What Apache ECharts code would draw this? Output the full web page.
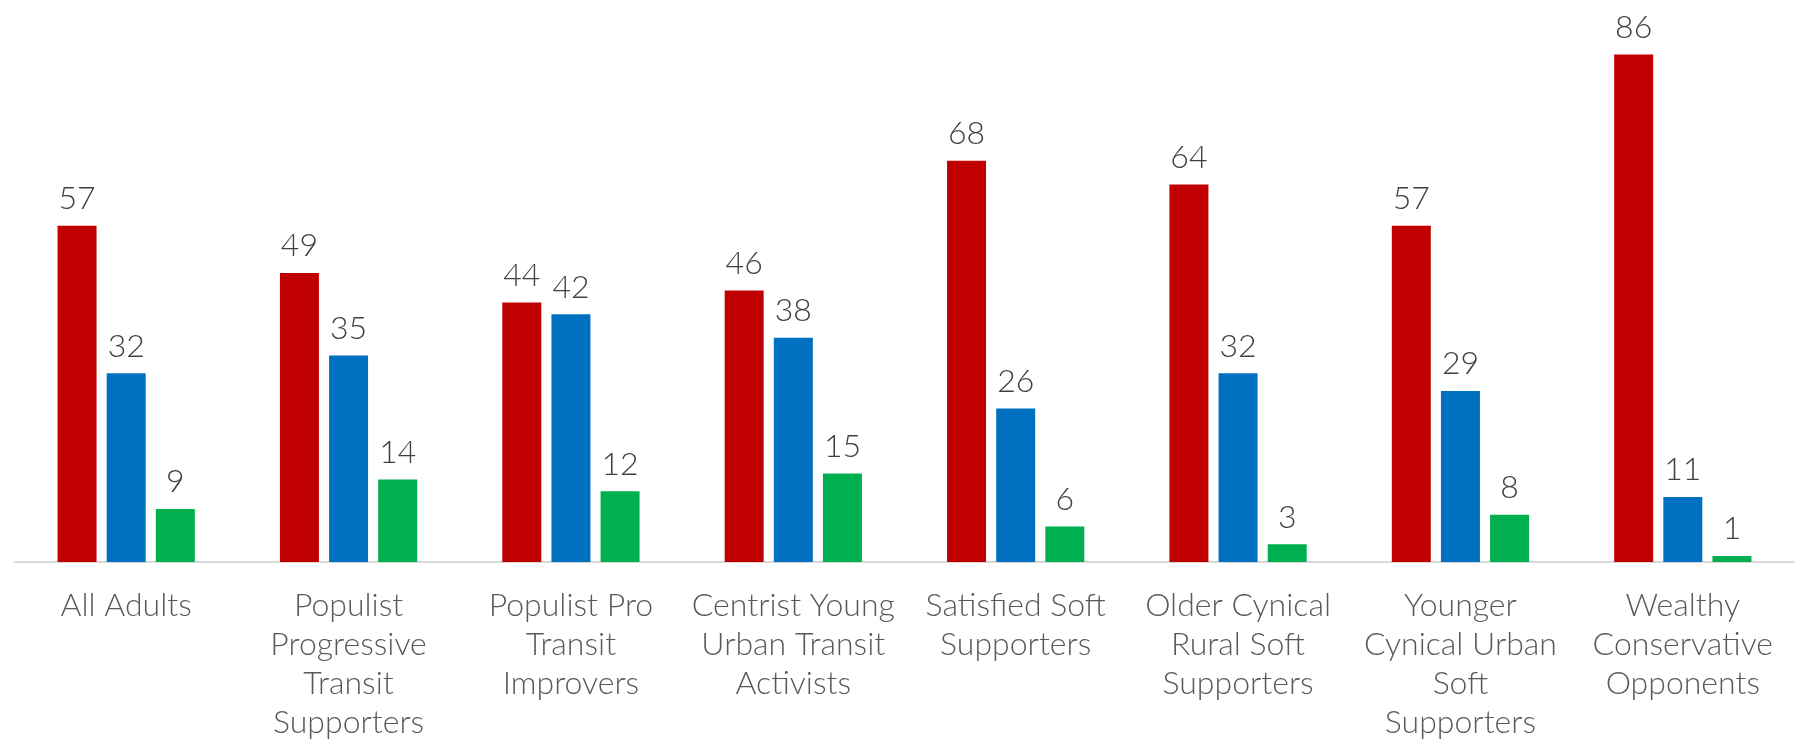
<!DOCTYPE html>
<html>
<head>
<meta charset="utf-8">
<style>
  html, body { margin: 0; padding: 0; background: #ffffff; }
  #chart { width: 1798px; height: 742px; }
</style>
<script src="https://cdn.jsdelivr.net/npm/echarts@6/dist/echarts.min.js"></script>
</head>
<body>
<div id="chart"></div>
<script>
// Segment names, wrapped the way they appear under the axis
const categories = [
  'All Adults',
  'Populist\nProgressive\nTransit\nSupporters',
  'Populist Pro\nTransit\nImprovers',
  'Centrist Young\nUrban Transit\nActivists',
  'Satisfied Soft\nSupporters',
  'Older Cynical\nRural Soft\nSupporters',
  'Younger\nCynical Urban\nSoft\nSupporters',
  'Wealthy\nConservative\nOpponents'
];

// Percentages per segment
const redValues   = [57, 49, 44, 46, 68, 64, 57, 86];
const blueValues  = [32, 35, 42, 38, 26, 32, 29, 11];
const greenValues = [9, 14, 12, 15, 6, 3, 8, 1];

const FONT = 'Lato, "Open Sans", "Noto Sans", sans-serif';

const labelStyle = {
  show: true,
  position: 'top',
  distance: 11,
  color: '#404040',
  fontFamily: FONT,
  fontWeight: 300,
  fontSize: 32
};

function barSeries(name, data, color) {
  return {
    name: name,
    type: 'bar',
    data: data,
    barWidth: 39,
    barGap: '26%',
    itemStyle: { color: color },
    label: labelStyle,
    emphasis: { disabled: true }
  };
}

const chart = echarts.init(document.getElementById('chart'), null, { renderer: 'canvas' });
chart.setOption({
  animation: false,
  backgroundColor: '#ffffff',
  grid: { left: 15, right: 4, top: 31, bottom: 176, containLabel: false },
  xAxis: {
    type: 'category',
    data: categories,
    axisLine: { show: true, lineStyle: { color: '#D9D9D9', width: 2 } },
    axisTick: { show: false },
    axisLabel: {
      interval: 0,
      margin: 24,
      color: '#595959',
      fontFamily: FONT,
      fontWeight: 300,
      fontSize: 32,
      lineHeight: 39
    }
  },
  yAxis: {
    type: 'value',
    min: 0,
    max: 90,
    show: false,
    splitLine: { show: false }
  },
  series: [
    barSeries('Red', redValues, '#C00000'),
    barSeries('Blue', blueValues, '#0070C0'),
    barSeries('Green', greenValues, '#00B050')
  ]
});
</script>
</body>
</html>
